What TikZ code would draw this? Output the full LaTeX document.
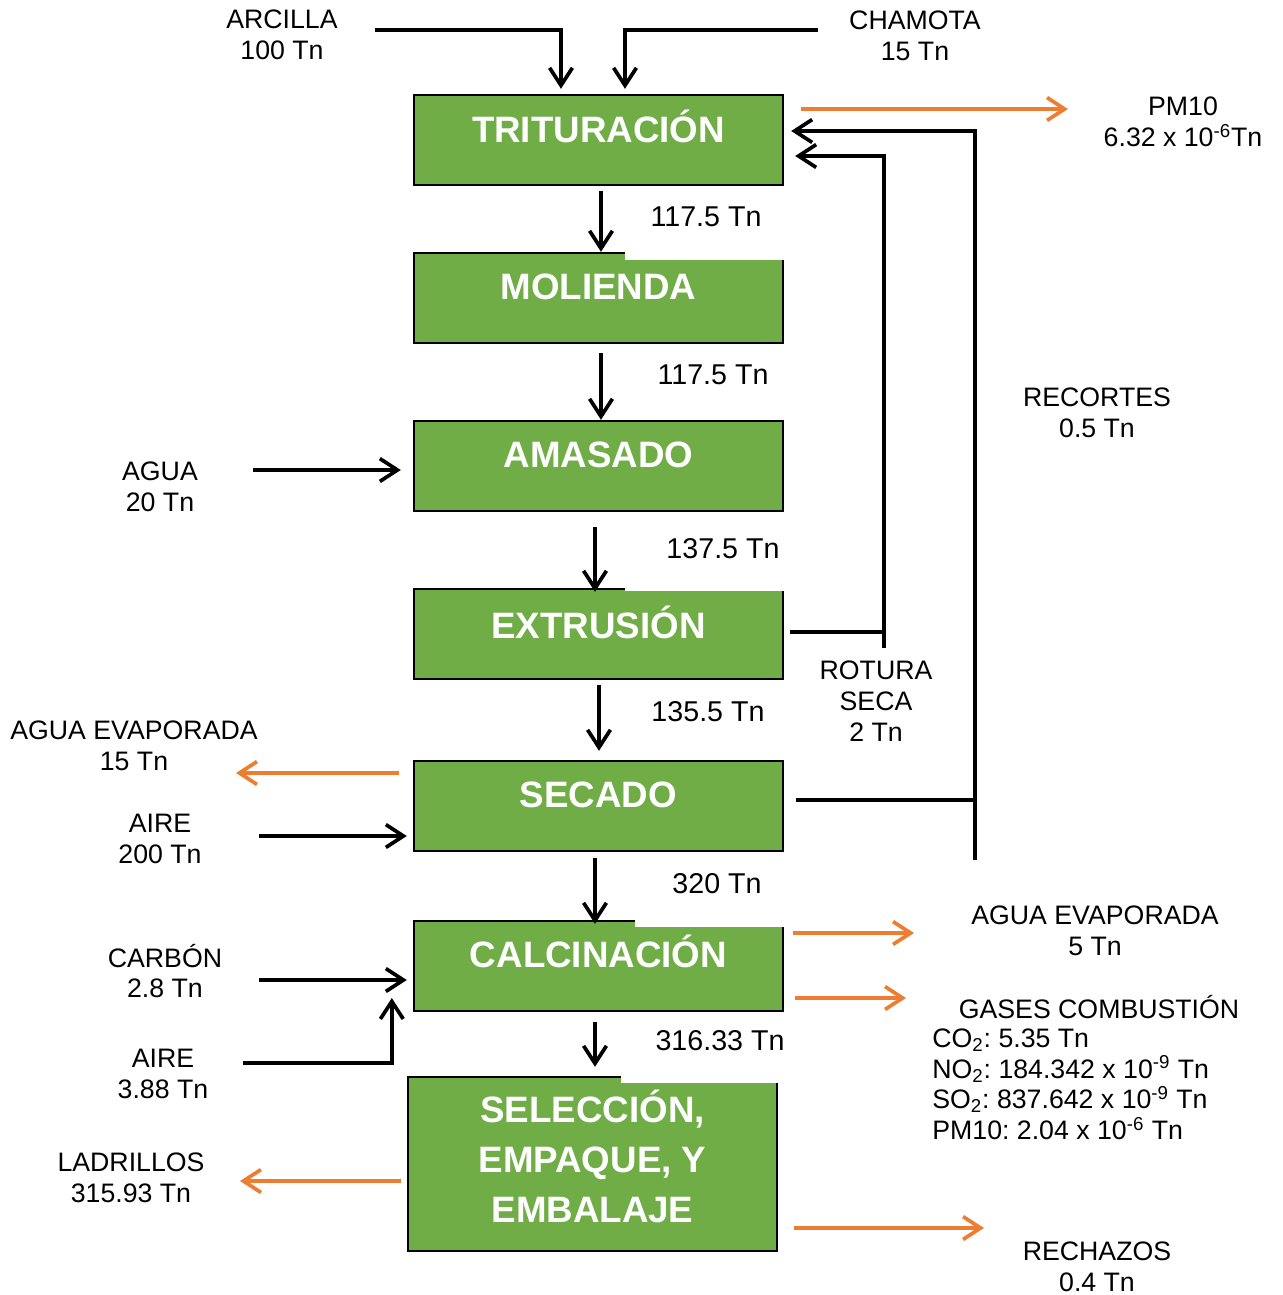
\documentclass[tikz,border=0pt]{standalone}
\usepackage{fontspec}
\setmainfont{Liberation Sans}
\frenchspacing
\usetikzlibrary{arrows.meta,calc}
\definecolor{procgreen}{HTML}{70AD47}
\definecolor{emisorange}{HTML}{ED7D31}
\begin{document}
\begin{tikzpicture}[x=0.02cm,y=-0.02cm,
  proc/.style={draw=black, line width=1.4pt, fill=procgreen,
    minimum width=7.38cm, minimum height=1.8cm, inner sep=0pt},
  proctxt/.style={text=white, font=\fontsize{20.9}{28.35}\selectfont\bfseries,
    anchor=base, inner sep=0pt},
  flowtxt/.style={font=\fontsize{16.3}{19}\selectfont, inner sep=0pt},
  sidetxt/.style={font=\fontsize{15.2}{17.6}\selectfont, align=center, inner sep=0pt},
  flowarr/.style={line width=2.1pt, -{Straight Barb[length=10pt,width=13pt]}},
  emisarr/.style={flowarr, draw=emisorange},
  feedline/.style={line width=2.1pt}
]
\useasboundingbox (0,0) rectangle (1282,1295);

% process boxes
\node[proc] (trit) at (598.5,140) {};
\node[proc] (mol)  at (598.5,298) {};
\node[proc] (amas) at (598.5,466) {};
\node[proc] (extr) at (598.5,634) {};
\node[proc] (sec)  at (598.5,806) {};
\node[proc] (calc) at (598.5,966) {};
\node[proc, minimum height=3.48cm] (sel) at (592.5,1164) {};

% white label backgrounds cutting into the box corners
\fill[white] (625,188) rectangle (792,260);
\fill[white] (625,575) rectangle (792,591);
\fill[white] (635,900) rectangle (792,927);
\fill[white] (621,1050) rectangle (792,1083);

% box titles
\node[proctxt] (tritT) at (598.5,142) {TRITURACIÓN};
\node[proctxt] (molT)  at (598.5,299) {MOLIENDA};
\node[proctxt] (amasT) at (598.5,467) {AMASADO};
\node[proctxt] (extrT) at (598.5,638) {EXTRUSIÓN};
\node[proctxt] (secT)  at (598.5,807) {SECADO};
\node[proctxt] (calcT) at (598.5,967) {CALCINACIÓN};
\node[proctxt, anchor=center, align=center] (selT) at (592.5,1156.5)
  {SELECCIÓN,\\EMPAQUE, Y\\EMBALAJE};

% mass flow labels
\node[flowtxt] (f1) at (706,217)  {117.5 Tn};
\node[flowtxt] (f2) at (713,375)  {117.5 Tn};
\node[flowtxt] (f3) at (723,549)  {137.5 Tn};
\node[flowtxt] (f4) at (708,712)  {135.5 Tn};
\node[flowtxt] (f5) at (717,884)  {320 Tn};
\node[flowtxt] (f6) at (720,1041) {316.33 Tn};

% inputs and outputs
\node[sidetxt] (arc)   at (282,35)   {ARCILLA\\100 Tn};
\node[sidetxt] (cham)  at (915,36)   {CHAMOTA\\15 Tn};
\node[sidetxt] (pm)    at (1183,122) {PM10\\6.32 x 10\textsuperscript{-6}Tn};
\node[sidetxt] (agua)  at (160,487)  {AGUA\\20 Tn};
\node[sidetxt] (rec)   at (1097,413) {RECORTES\\0.5 Tn};
\node[sidetxt] (rot)   at (876,701)  {ROTURA\\SECA\\2 Tn};
\node[sidetxt] (evap1) at (134,746)  {AGUA EVAPORADA\\15 Tn};
\node[sidetxt] (aire1) at (160,839)  {AIRE\\200 Tn};
\node[sidetxt] (carb)  at (165,971)  {CARBÓN\\2.8 Tn};
\node[sidetxt] (aire2) at (163,1074) {AIRE\\3.88 Tn};
\node[sidetxt] (ladr)  at (131,1178) {LADRILLOS\\315.93 Tn};
\node[sidetxt] (evap2) at (1095,931) {AGUA EVAPORADA\\5 Tn};
\node[sidetxt, anchor=base] (gas) at (1099,1018.5) {GASES COMBUSTIÓN};
\node[sidetxt, align=left, anchor=north west, font=\fontsize{15.2}{17.4}\selectfont]
  (gasl) at (932,1028.5)
  {CO\textsubscript{2}: 5.35 Tn\\
   NO\textsubscript{2}: 184.342 x 10\textsuperscript{-9} Tn\\
   SO\textsubscript{2}: 837.642 x 10\textsuperscript{-9} Tn\\
   PM10: 2.04 x 10\textsuperscript{-6} Tn};
\node[sidetxt] (rech)  at (1097,1267) {RECHAZOS\\0.4 Tn};

% free ends of the connectors
\coordinate (arcS)   at (375,30);
\coordinate (chamS)  at (818,30);
\coordinate (pmE)    at (1068,109);
\coordinate (recS)   at (975,860);
\coordinate (rotS)   at (884,648);
\coordinate (aguaS)  at (253,470);
\coordinate (evap1E) at (236,773);
\coordinate (aire1S) at (259,836);
\coordinate (carbS)  at (259,980);
\coordinate (aire2S) at (243,1063);
\coordinate (evap2E) at (914,933);
\coordinate (gasE)   at (906,998);
\coordinate (ladrE)  at (240,1181);
\coordinate (rechE)  at (984,1228);

% main line
\draw[flowarr] ($(trit.south)+(2.5,5)$)  -- ($(mol.north)+(2.5,0)$);
\draw[flowarr] ($(mol.south)+(2.5,9)$)   -- ($(amas.north)+(2.5,0)$);
\draw[flowarr] ($(amas.south)+(-3.5,15)$) -- ($(extr.north)+(-3.5,4)$);
\draw[flowarr] ($(extr.south)+(0.5,5)$)  -- ($(sec.north)+(0.5,-9)$);
\draw[flowarr] ($(sec.south)+(-3.5,6)$)  -- ($(calc.north)+(-3.5,4)$);
\draw[flowarr] ($(calc.south)+(-3.5,10)$) -- ($(sel.north)+(2.5,-9)$);

% raw materials
\draw[flowarr] (arcS)  -| ($(trit.north)+(-37.5,-5)$);
\draw[flowarr] (chamS) -| ($(trit.north)+(26.5,-5)$);
\draw[emisarr] ($(trit.east)+(17,-31)$) -- (pmE);

% recycled material
\draw[feedline] ($(sec.east)+(12,-6)$) -- ++(180,0);
\draw[flowarr] (recS) |- ($(trit.east)+(7,-9)$);
\draw[feedline] ($(extr.east)+(6,-2)$) -- ++(95,0);
\draw[flowarr] (rotS) |- ($(trit.east)+(11,16)$);

% side streams
\draw[flowarr] (aguaS) -- ($(amas.west)+(-12,4)$);
\draw[emisarr] ($(sec.west)+(-14,-33)$) -- (evap1E);
\draw[flowarr] (aire1S) -- ($(sec.west)+(-6,30)$);
\draw[flowarr] (carbS) -- ($(calc.west)+(-6,14)$);
\draw[flowarr] (aire2S) -| ($(calc.west)+(-21,32)$);
\draw[emisarr] ($(calc.east)+(9,-33)$) -- (evap2E);
\draw[emisarr] ($(calc.east)+(11,32)$) -- (gasE);
\draw[emisarr] ($(sel.west)+(-6,17)$) -- (ladrE);
\draw[emisarr] ($(sel.east)+(16,64)$) -- (rechE);
\end{tikzpicture}
\end{document}
